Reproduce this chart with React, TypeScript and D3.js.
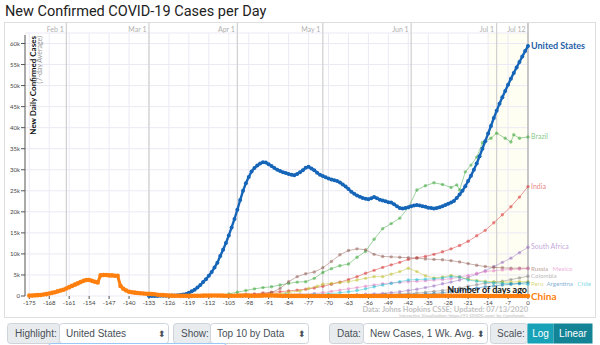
import React from 'react';
import * as d3 from 'd3';

// ---------- DATA (values in thousands of cases, 7-day average) ----------
const xTicks = [-175, -168, -161, -154, -147, -140, -133, -126, -119, -112, -105, -98, -91, -84, -77, -70, -63, -56, -49, -42, -35, -28, -21, -14, -7, 0];
const yTicks = [0, 5, 10, 15, 20, 25, 30, 35, 40, 45, 50, 55, 60];
const yTickLabels = ['0', '5k', '10k', '15k', '20k', '25k', '30k', '35k', '40k', '45k', '50k', '55k', '60k'];
const monthLabels = ['Feb 1', 'Mar 1', 'Apr 1', 'May 1', 'Jun 1', 'Jul 1', 'Jul 12'];
const monthDays = [-162, -133, -102, -72, -41, -11, 0];

const usStart = -133;
const usValues = [
  0.01, 0.01, 0.01, 0.02, 0.03, 0.04, 0.05, 0.07, 0.1, 0.13, 0.18, 0.25, 0.35,
  0.5, 0.8, 1.1, 1.5, 2.0, 2.6, 3.3, 4.0, 4.8, 5.7,
  6.8, 7.9, 9.5, 11.0, 12.6, 14.4, 16.3, 18.3, 20.5, 22.8,
  25.0, 26.8, 28.3, 29.6, 30.4, 31.0, 31.5, 31.8, 31.7, 31.3,
  30.9, 30.4, 30.0, 29.7, 29.4, 29.2, 29.0, 28.8, 28.7, 29.0,
  29.4, 29.9, 30.5, 30.7, 30.3, 29.9, 29.3, 28.8, 28.5, 28.2,
  27.9, 27.7, 27.5, 27.3, 27.0, 26.5, 26.0, 25.4, 24.8, 24.3,
  23.9, 23.6, 23.3, 23.1, 23.0, 23.2, 23.5, 23.2, 22.9, 22.7,
  22.5, 22.3, 22.2, 21.8, 21.3, 20.9, 20.8, 20.9, 21.1, 21.3,
  21.5, 21.6, 21.5, 21.3, 21.2, 21.0, 20.9, 20.8, 20.9, 21.1,
  21.3, 21.6, 21.9, 22.2, 22.6, 23.3, 24.1, 25.0, 26.1, 27.3,
  28.6, 30.0, 31.5, 33.2, 35.0, 36.8, 38.6, 40.4, 42.3, 44.0,
  45.7, 47.2, 48.7, 50.2, 51.6, 53.0, 54.3, 55.6, 56.9, 58.2,
  59.4,
];

const chinaStart = -175;
const chinaValues = [
  0.1, 0.1, 0.15, 0.2, 0.25, 0.35, 0.45, 0.6, 0.75, 0.9,
  1.1, 1.3, 1.5, 1.8, 2.1, 2.4, 2.7, 3.0, 3.3, 3.6,
  3.8, 3.8, 3.6, 3.4, 3.2, 4.9, 5.0, 5.0, 4.9, 4.9,
  4.8, 4.8, 2.4, 1.7, 1.3, 1.0, 0.9, 0.8, 0.7, 0.65,
  0.6, 0.55, 0.5, 0.45, 0.4, 0.3, 0.25, 0.2, 0.15, 0.1,
  0.08, 0.06, 0.05, 0.04, 0.03, 0.03, 0.03, 0.04, 0.05, 0.06,
  0.07, 0.08, 0.09, 0.1, 0.1, 0.11, 0.1, 0.09, 0.08, 0.07,
  0.07, 0.06, 0.06, 0.07, 0.08, 0.09, 0.09, 0.08, 0.07, 0.06,
  0.06, 0.08, 0.1, 0.12, 0.14, 0.12, 0.1, 0.08, 0.06, 0.04,
  0.03, 0.03, 0.02, 0.02, 0.02, 0.01, 0.01, 0.01, 0.01, 0.01,
  0.01, 0.01, 0.01, 0.01, 0.01, 0.01, 0.01, 0.01, 0.01, 0.01,
  0.01, 0.01, 0.01, 0.01, 0.01, 0.01, 0.01, 0.01, 0.01, 0.01,
  0.01, 0.01, 0.01, 0.01, 0.01, 0.01, 0.01, 0.01, 0.01, 0.01,
  0.01, 0.01, 0.01, 0.01, 0.01, 0.01, 0.01, 0.01, 0.01, 0.01,
  0.01, 0.01, 0.02, 0.02, 0.03, 0.03, 0.03, 0.03, 0.03, 0.03,
  0.03, 0.03, 0.02, 0.02, 0.02, 0.02, 0.02, 0.01, 0.01, 0.01,
  0.01, 0.01, 0.01, 0.01, 0.01, 0.01, 0.01, 0.01, 0.01, 0.01,
  0.01, 0.01, 0.01, 0.01, 0.01, 0.01,
];

type Pt = [number, number];
const brazil: Pt[] = [[-105, 0.5], [-102, 0.9], [-99, 1.3], [-96, 1.7], [-93, 2.0], [-90, 2.2], [-87, 2.6], [-84, 3.0], [-81, 3.3], [-78, 3.4], [-75, 4.2], [-72, 5.6], [-69, 6.5], [-66, 7.2], [-63, 7.6], [-60, 9.2], [-57, 10.6], [-54, 13.5], [-51, 16.0], [-48, 17.2], [-45, 18.5], [-42, 21.0], [-39, 25.2], [-36, 26.2], [-33, 26.9], [-30, 26.5], [-27, 25.8], [-25, 26.4], [-24, 25.2], [-22, 29.5], [-20, 31.1], [-18, 33.0], [-16, 36.4], [-13, 37.5], [-11, 38.7], [-8, 37.5], [-6, 36.6], [-5, 38.3], [-3, 37.5], [0, 37.8]];
const india: Pt[] = [[-105, 0.1], [-102, 0.2], [-99, 0.4], [-96, 0.5], [-93, 0.7], [-90, 0.9], [-87, 1.0], [-84, 1.2], [-81, 1.4], [-78, 1.6], [-75, 1.9], [-72, 2.3], [-69, 2.8], [-66, 3.3], [-63, 3.9], [-60, 4.6], [-57, 5.4], [-54, 6.1], [-51, 6.8], [-48, 7.4], [-45, 8.0], [-42, 8.7], [-39, 9.1], [-36, 9.4], [-33, 9.9], [-30, 10.5], [-27, 11.2], [-24, 12.0], [-21, 13.0], [-18, 14.3], [-15, 15.6], [-12, 17.4], [-9, 19.3], [-6, 21.2], [-3, 23.5], [0, 26.0]];
const southAfrica: Pt[] = [[-90, 0.05], [-80, 0.1], [-70, 0.15], [-60, 0.3], [-57, 0.4], [-54, 0.5], [-51, 0.6], [-48, 0.8], [-45, 1.0], [-42, 1.3], [-39, 1.6], [-36, 2.0], [-33, 2.4], [-30, 2.9], [-27, 3.3], [-24, 3.8], [-21, 4.4], [-18, 5.2], [-15, 6.0], [-12, 7.0], [-9, 8.0], [-6, 9.0], [-3, 10.3], [0, 11.6]];
const russia: Pt[] = [[-105, 0.05], [-99, 0.15], [-96, 0.3], [-93, 0.5], [-90, 0.8], [-87, 1.8], [-84, 3.4], [-81, 4.6], [-78, 5.3], [-75, 5.7], [-72, 6.7], [-69, 8.2], [-66, 9.8], [-63, 10.8], [-60, 11.2], [-57, 11.0], [-54, 9.9], [-51, 9.4], [-48, 9.3], [-45, 9.2], [-42, 9.1], [-39, 9.0], [-36, 8.8], [-33, 8.7], [-30, 8.6], [-27, 8.4], [-24, 8.1], [-21, 7.7], [-18, 7.3], [-15, 7.0], [-12, 6.8], [-9, 6.7], [-6, 6.6], [-3, 6.6], [0, 6.6]];
const mexico: Pt[] = [[-100, 0.1], [-90, 0.2], [-80, 0.4], [-75, 0.6], [-72, 0.8], [-69, 1.1], [-66, 1.4], [-63, 1.7], [-60, 2.0], [-57, 2.3], [-54, 2.6], [-51, 2.9], [-48, 3.1], [-45, 3.2], [-42, 3.4], [-39, 3.5], [-36, 3.6], [-33, 3.8], [-30, 3.9], [-27, 4.1], [-24, 4.5], [-21, 4.9], [-18, 5.4], [-15, 5.8], [-12, 6.0], [-9, 6.2], [-6, 6.3], [-3, 6.4], [0, 6.5]];
const colombia: Pt[] = [[-100, 0.05], [-80, 0.1], [-60, 0.2], [-50, 0.4], [-45, 0.5], [-42, 0.6], [-39, 0.7], [-36, 0.9], [-33, 1.1], [-30, 1.3], [-27, 1.6], [-24, 1.9], [-21, 2.3], [-18, 2.7], [-15, 3.0], [-12, 3.2], [-9, 3.5], [-6, 3.9], [-3, 4.3], [0, 4.7]];
const peru: Pt[] = [[-100, 0.1], [-90, 0.4], [-84, 0.9], [-80, 1.2], [-77, 1.8], [-74, 2.3], [-72, 2.8], [-69, 3.0], [-66, 3.2], [-63, 3.4], [-60, 3.8], [-57, 4.2], [-54, 4.6], [-51, 4.6], [-48, 5.2], [-45, 5.8], [-42, 6.6], [-39, 5.8], [-36, 4.8], [-33, 4.3], [-30, 4.5], [-27, 4.9], [-24, 4.5], [-21, 4.0], [-18, 3.7], [-15, 3.5], [-12, 3.4], [-9, 3.3], [-6, 3.3], [-3, 3.4], [0, 3.4]];
const chile: Pt[] = [[-100, 0.2], [-85, 0.4], [-75, 0.4], [-70, 0.5], [-66, 0.8], [-63, 1.0], [-60, 1.3], [-57, 1.7], [-54, 2.2], [-51, 2.6], [-48, 3.0], [-45, 3.4], [-42, 3.8], [-39, 3.9], [-36, 4.0], [-33, 4.1], [-30, 4.3], [-27, 4.6], [-24, 4.5], [-21, 3.8], [-18, 3.5], [-15, 3.3], [-12, 3.1], [-9, 3.0], [-6, 2.9], [-3, 2.9], [0, 2.8]];
const argentina: Pt[] = [[-100, 0.05], [-70, 0.15], [-50, 0.2], [-40, 0.3], [-36, 0.5], [-33, 0.6], [-30, 0.8], [-27, 1.0], [-24, 1.3], [-21, 1.6], [-18, 1.9], [-15, 2.2], [-12, 2.4], [-9, 2.6], [-6, 2.8], [-3, 3.0], [0, 3.2]];

const minorNames = ['Brazil', 'India', 'South Africa', 'Russia', 'Mexico', 'Colombia', 'Peru', 'Chile', 'Argentina'];
const minorColors = ['#2ca02c', '#d62728', '#9467bd', '#8c564b', '#e377c2', '#7f7f7f', '#bcbd22', '#17becf', '#1f77b4'];
const minorData = [brazil, india, southAfrica, russia, mexico, colombia, peru, chile, argentina];

// ---------- LAYOUT ----------
const W = 600;
const H = 345;
const x = d3.scaleLinear().domain([-175, 0]).range([29.3, 528]);
const y = d3.scaleLinear().domain([0, 60]).range([296, 43.5]);
const plotTop = 33;
const FONT = 'Lato, "Open Sans", sans-serif';
const UI_FONT = '"Liberation Sans", Arial, sans-serif';

const line = d3.line<Pt>().x((d) => x(d[0])).y((d) => y(d[1]));

function daily(start: number, vals: number[]): Pt[] {
  return vals.map((v, i) => [start + i, v] as Pt);
}

// End-label layout: labels whose line ends are close share a row, side by side;
// rows keep a minimum vertical gap.
function layoutLabels(ends: number[], fs: number[]): { x: number; y: number }[] {
  const out = ends.map((e) => ({ x: x(0) + 3, y: e }));
  const order = ends.map((_, i) => i).sort((a, b) => ends[a] - ends[b]);
  const rows: number[][] = [];
  order.forEach((i) => {
    const row = rows[rows.length - 1];
    if (row && ends[i] - ends[row[0]] < 3) row.push(i);
    else rows.push([i]);
  });
  let prevY = -Infinity;
  rows.forEach((row) => {
    let ry = d3.mean(row, (i) => ends[i]) as number;
    if (ry - prevY < 7.5) ry = prevY + 7.5;
    prevY = ry;
    let cx = x(0) + 3;
    row.forEach((i) => {
      out[i] = { x: cx, y: ry };
      cx += minorNames[i].length * fs[i] * 0.5 + 3;
    });
  });
  return out;
}

function Control({ x0, label, lw, value, sw }: { x0: number; label: string; lw: number; value: string; sw: number }) {
  const yT = 323;
  const h = 20;
  return (
    <g>
      <rect x={x0 + 0.5} y={yT + 0.5} width={lw} height={h} rx={3} fill="#e9ecef" stroke="#ced4da" />
      <text x={x0 + 8} y={yT + 14} fontSize={10} fill="#495057" fontFamily={UI_FONT}>{label}</text>
      <rect x={x0 + lw + 0.5} y={yT + 0.5} width={sw} height={h} rx={3} fill="#fff" stroke="#ced4da" />
      <text x={x0 + lw + 7} y={yT + 14} fontSize={10} fill="#495057" fontFamily={UI_FONT}>{value}</text>
      <text x={x0 + lw + sw - 6} y={yT + 14} fontSize={9} fill="#495057" textAnchor="middle" fontFamily={UI_FONT}>⬍</text>
    </g>
  );
}

export default function App() {
  const us = daily(usStart, usValues);
  const china = daily(chinaStart, chinaValues);
  const ends = minorData.map((pts) => y(pts[pts.length - 1][1]));
  const fs = minorData.map((_, i) => (i < 3 ? 7 : 6.2));
  const labels = layoutLabels(ends, fs);
  return (
    <svg width={W} height={H} style={{ position: 'absolute', left: 0, top: 0, background: '#fff' }}>
      {/* title */}
      <text x={5} y={16} fontSize={14.5} fontFamily="Roboto, sans-serif" fill="#222">New Confirmed COVID-19 Cases per Day</text>

      {/* frame */}
      <rect x={4.5} y={22.5} width={591} height={295} fill="none" stroke="#dedede" />

      {/* recent highlight */}
      <rect x={x(-14)} y={plotTop} width={x(0) - x(-14)} height={y(0) - plotTop} fill="#fefef3" />

      {/* grid */}
      {yTicks.map((t) => (
        <line key={'gy' + t} x1={25} x2={x(0)} y1={y(t)} y2={y(t)} stroke="#ece9f4" />
      ))}
      <line x1={25} x2={x(0)} y1={plotTop} y2={plotTop} stroke="#ece9f4" />
      {xTicks.map((t) => (
        <line key={'gx' + t} x1={x(t)} x2={x(t)} y1={plotTop} y2={y(0)} stroke="#ece9f4" />
      ))}

      {/* month lines */}
      {monthDays.map((d, i) => (
        <g key={'m' + i}>
          <line x1={x(d)} x2={x(d)} y1={23} y2={y(0)} stroke={d === 0 ? '#a8a8a8' : '#cfcfcf'} strokeWidth={1.2} />
          <text x={x(d) - 2.5} y={31.5} fontSize={7} fill="#b0b0b0" textAnchor="end" fontFamily={FONT}>{monthLabels[i]}</text>
        </g>
      ))}

      {/* y axis */}
      <line x1={25} x2={25} y1={35} y2={y(0)} stroke="#555" />
      {yTicks.map((t, i) => (
        <g key={'yt' + t}>
          <line x1={21} x2={25} y1={y(t)} y2={y(t)} stroke="#555" />
          <text x={20} y={y(t) + 2} fontSize={6} fill="#444" textAnchor="end" fontFamily={FONT}>{yTickLabels[i]}</text>
        </g>
      ))}
      <text transform={`translate(35.5,36) rotate(-90)`} fontSize={8} fontWeight="bold" fill="#111" textAnchor="end" fontFamily={FONT}>New Daily Confirmed Cases</text>
      <text transform={`translate(41.5,36) rotate(-90)`} fontSize={7} fill="#999" textAnchor="end" fontFamily={FONT}>(7-day Average)</text>

      {/* x axis */}
      {xTicks.map((t) => (
        <g key={'xt' + t}>
          <line x1={x(t)} x2={x(t)} y1={y(0)} y2={y(0) + 3} stroke="#555" />
          <text x={x(t)} y={305} fontSize={6} fill="#444" textAnchor="middle" fontFamily={FONT}>{t}</text>
        </g>
      ))}

      {/* minor series */}
      {minorData.map((pts, i) => (
        <g key={'s' + i}>
          <path d={line(pts) || ''} fill="none" stroke={minorColors[i]} strokeOpacity={0.45} strokeWidth={1} />
          {pts.map((p, j) => (
            <circle key={j} cx={x(p[0])} cy={y(p[1])} r={1.7} fill={minorColors[i]} fillOpacity={0.5} />
          ))}
          <text x={labels[i].x} y={labels[i].y + 2.2} fontSize={fs[i]} fill={minorColors[i]} fillOpacity={0.6} fontFamily={FONT}>{minorNames[i]}</text>
        </g>
      ))}

      {/* x axis title */}
      <text x={527} y={293} fontSize={9} fontWeight="bold" fill="#111" textAnchor="end" fontFamily={FONT}>Number of days ago</text>

      {/* United States */}
      <path d={line(us) || ''} fill="none" stroke="#1565b8" strokeWidth={2.4} />
      {us.map((p, j) => (
        <circle key={'u' + j} cx={x(p[0])} cy={y(p[1])} r={2} fill="#1565b8" />
      ))}
      <text x={x(0) + 3} y={y(59.4) + 3} fontSize={9} fontWeight="bold" fill="#1f5fa8" fontFamily={FONT}>United States</text>

      {/* China */}
      <path d={line(china) || ''} fill="none" stroke="#ff7f0e" strokeWidth={3} />
      {china.map((p, j) => (
        <circle key={'c' + j} cx={x(p[0])} cy={y(p[1])} r={2.3} fill="#ff7f0e" />
      ))}
      <text x={x(0) + 3} y={y(0) + 3.8} fontSize={10} fontWeight="bold" fill="#ff7f0e" fontFamily={FONT}>China</text>

      {/* source */}
      <text x={528} y={312} fontSize={7.5} fill="#c2c2c2" textAnchor="end" fontFamily={FONT} fontWeight="bold">Data: Johns Hopkins CSSE; Updated: 07/13/2020</text>
      <text x={527} y={317} fontSize={4.5} fill="#bbb" textAnchor="end" fontFamily={FONT}>Interactive Visualization: https://91-DIVOC.com/ by @profwade_</text>

      {/* controls */}
      <Control x0={7} label="Highlight:" lw={52} value="United States" sw={109} />
      <Control x0={173} label="Show:" lw={37} value="Top 10 by Data" sw={98} />
      <Control x0={329} label="Data:" lw={34} value="New Cases, 1 Wk. Avg." sw={124} />
      <rect x={490.5} y={323.5} width={37} height={20} rx={3} fill="#e9ecef" stroke="#ced4da" />
      <text x={497} y={337} fontSize={10} fill="#495057" fontFamily={UI_FONT}>Scale:</text>
      <rect x={527.5} y={323.5} width={26} height={20} fill="#17a2b8" />
      <text x={540.5} y={337} fontSize={10} fill="#fff" textAnchor="middle" fontFamily={UI_FONT}>Log</text>
      <rect x={553.5} y={323.5} width={39} height={20} fill="#138496" />
      <text x={573} y={337} fontSize={10} fill="#fff" textAnchor="middle" fontFamily={UI_FONT}>Linear</text>
      <rect x={48.5} y={343.5} width={178} height={8} rx={3} fill="none" stroke="#9cc8f5" />
    </svg>
  );
}
